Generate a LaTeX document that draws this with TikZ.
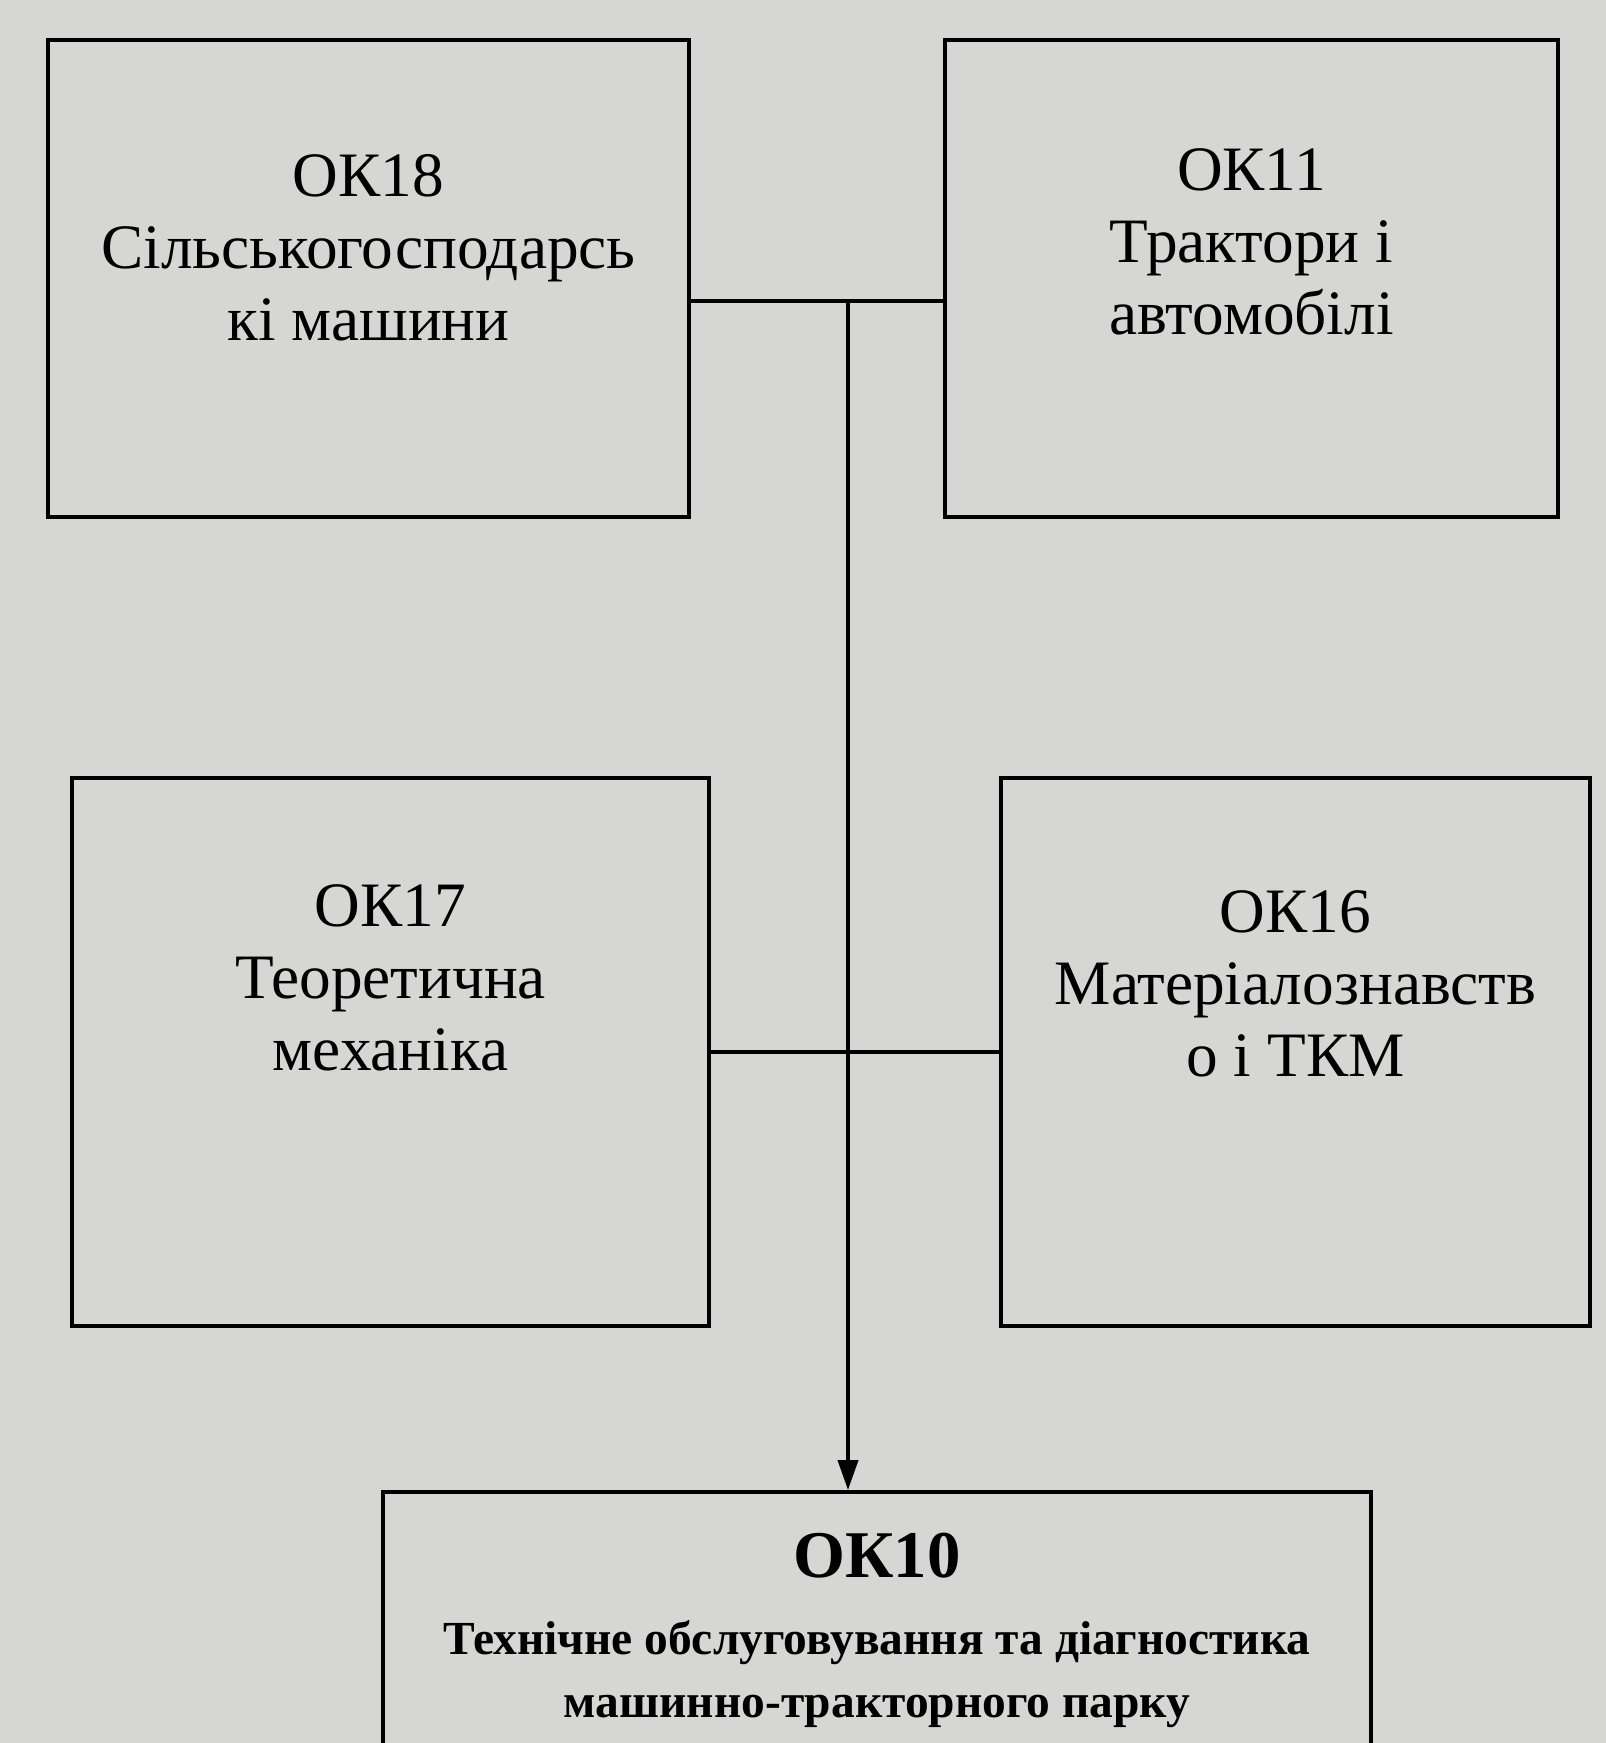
\documentclass[tikz,border=0pt]{standalone}
\usepackage{fontspec}
\setmainfont{Liberation Serif}
\usetikzlibrary{positioning,arrows.meta}
\definecolor{paper}{RGB}{214,214,213}
\tikzset{blok/.style={draw,line width=1.1pt,inner sep=0pt},
  napys/.style={inner sep=0pt,align=center,font=\fontsize{18}{20.5}\selectfont},
  zv/.style={line width=1.1pt}}
\begin{document}
\begin{tikzpicture}
\fill[paper](0,0)rectangle(16.06,17.43);
\useasboundingbox(0,0)rectangle(16.06,17.43);
\clip(0,0)rectangle(16.06,17.43);
\node[blok,minimum width=6.41cm,minimum height=4.77cm](ok18)at(3.685,14.645){};
\node[blok,minimum width=6.13cm,minimum height=4.77cm](ok11)at(12.515,14.645){};
\node[blok,minimum width=6.37cm,minimum height=5.48cm](ok17)at(3.905,6.91){};
\node[blok,minimum width=5.89cm,minimum height=5.48cm](ok16)at(12.955,6.91){};
\node[blok,minimum width=9.88cm,minimum height=3.01cm](ok10)at(8.77,1.005){};
\node[napys,below=1.16cm of ok18.north](t18){ОК18\\Сільськогосподарсь\\кі машини};
\node[napys,below=1.10cm of ok11.north](t11){ОК11\\Трактори і\\автомобілі};
\node[napys,below=1.08cm of ok17.north](t17){ОК17\\Теоретична\\механіка};
\node[napys,below=1.14cm of ok16.north](t16){ОК16\\Матеріалознавств\\о і ТКМ};
\node[inner sep=0pt,font=\fontsize{19}{22}\selectfont\bfseries,below=0.42cm of ok10.north](t10){ОК10};
\node[inner sep=0pt,align=center,font=\fontsize{13.5}{18}\selectfont\bfseries,below=0.41cm of t10](p10){Технічне обслуговування та діагностика\\машинно-тракторного парку};
\coordinate(v1)at(8.48,14.42);
\draw[zv](ok18.east|-v1)--(ok11.west|-v1);
\draw[zv](ok17.east)--(ok16.west);
\draw[zv,-{Triangle[length=3mm,width=2mm]}](v1)--(v1|-ok10.north);
\end{tikzpicture}
\end{document}
